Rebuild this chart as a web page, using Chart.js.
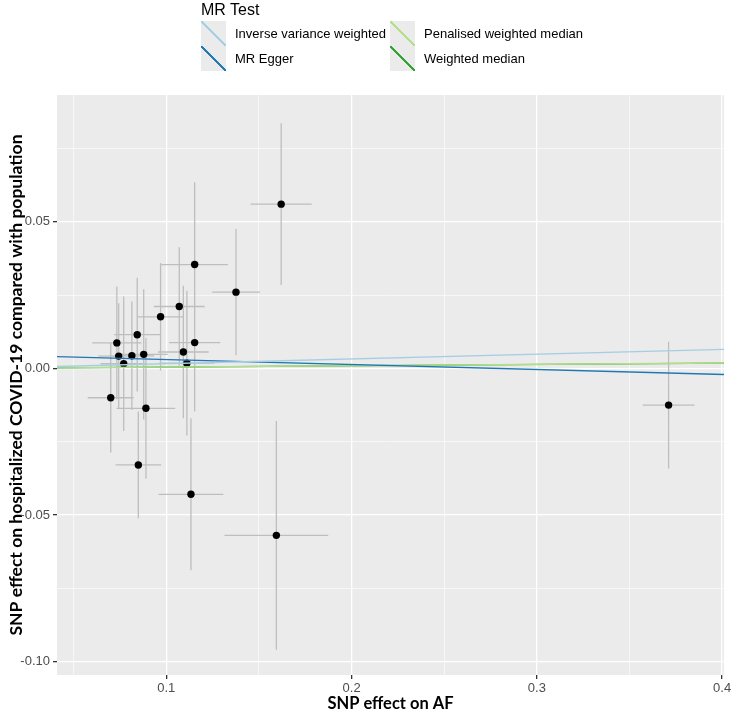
<!DOCTYPE html>
<html>
<head>
<meta charset="utf-8">
<script src="https://cdn.jsdelivr.net/npm/chart.js@4.4.1/dist/chart.umd.min.js"></script>
<style>
  body { margin: 0; background: #fff; }
  #wrap { position: relative; width: 734px; height: 716px; }
  #legend { position: absolute; left: 201px; top: 0; font-family: "Liberation Sans", Arial, sans-serif; color: #000; }
  #legend .title { font-size: 16px; height: 21px; line-height: 20px; }
  #legend .grid { display: grid; grid-template-columns: 189px 200px; }
  #legend .item { display: flex; align-items: center; height: 25px; font-size: 13px; }
  #legend .key { width: 25px; height: 25px; margin-right: 9px; }
</style>
</head>
<body>
<div id="wrap">
  <canvas id="mr-chart" width="734" height="716"></canvas>
  <div id="legend"><div class="title">MR Test</div><div class="grid" id="legend-items"></div></div>
</div>
<script>
// SNP effects
const betaExposure = [0.162, 0.1153, 0.1376, 0.107, 0.0969, 0.0843, 0.0733, 0.1153, 0.1092, 0.0743,
                      0.0814, 0.0878, 0.077, 0.1111, 0.070, 0.089, 0.0849, 0.1133, 0.1594, 0.3711];
const betaOutcome = [0.056, 0.0354, 0.026, 0.0211, 0.0176, 0.0115, 0.0087, 0.0088, 0.0056, 0.0042,
                     0.0043, 0.0048, 0.0016, 0.0018, -0.0100, -0.0136, -0.0329, -0.0429, -0.0569, -0.0125];
// half widths of the error bars
const errExposure = [0.0165, 0.018, 0.013, 0.0137, 0.0123, 0.0124, 0.0133, 0.0138, 0.0137, 0.011,
                     0.012, 0.013, 0.0125, 0.015, 0.0124, 0.0158, 0.0123, 0.0175, 0.028, 0.014];
const errOutcome = [0.0276, 0.0281, 0.0215, 0.0202, 0.0183, 0.0194, 0.0192, 0.0235, 0.0226, 0.018,
                    0.0185, 0.0222, 0.0229, 0.0247, 0.0187, 0.024, 0.0182, 0.0259, 0.039, 0.0216];

// MR methods (slope / intercept)
const methods = ['Inverse variance weighted', 'MR Egger', 'Penalised weighted median', 'Weighted median'];
const slopes = [0.0162, -0.0169, 0.0046, 0.0045];
const intercepts = [0, 0.0047, 0, 0];
const methodColors = ['#A6CEE3', '#1F78B4', '#B2DF8A', '#33A02C'];

const xTickVals = [0.05, 0.1, 0.15, 0.2, 0.25, 0.3, 0.35, 0.4];
const xTickLabels = ['', '0.1', '', '0.2', '', '0.3', '', '0.4'];
const yTickVals = [-0.1, -0.075, -0.05, -0.025, 0, 0.025, 0.05, 0.075];
const yTickLabels = ['-0.10', '', '-0.05', '', '0.00', '', '0.05', ''];

const xMin = 0.041, xMax = 0.401, yMin = -0.1045, yMax = 0.0932;

let datasets = [];

// regression lines on top
methods.forEach((m, i) => {
    datasets.push({
        label: m,
        data: [{x: xMin, y: intercepts[i] + slopes[i] * xMin}, {x: xMax, y: intercepts[i] + slopes[i] * xMax}],
        showLine: true,
        borderColor: methodColors[i],
        borderWidth: 1.4,
        pointRadius: 0
    });
});

datasets.push({
    label: 'SNPs',
    data: betaExposure.map((v, i) => ({x: v, y: betaOutcome[i]})),
    pointRadius: 3.7,
    pointBackgroundColor: '#000',
    pointBorderWidth: 0
});

// error bars as broken lines
let hBars = [], vBars = [];
betaExposure.forEach((v, i) => {
    let b = betaOutcome[i];
    hBars.push({x: v - errExposure[i], y: b}, {x: v + errExposure[i], y: b}, {x: v, y: null});
    vBars.push({x: v, y: b - errOutcome[i]}, {x: v, y: b + errOutcome[i]}, {x: v, y: null});
});
datasets.push({ label: 'h', data: hBars, showLine: true, spanGaps: false, borderColor: '#BEBEBE', borderWidth: 1.3, pointRadius: 0 });
datasets.push({ label: 'v', data: vBars, showLine: true, spanGaps: false, borderColor: '#BEBEBE', borderWidth: 1.3, pointRadius: 0 });

const panelBg = {
    id: 'panelBg',
    beforeDraw(chart) {
        const a = chart.chartArea;
        chart.ctx.save();
        chart.ctx.fillStyle = '#EBEBEB';
        chart.ctx.fillRect(a.left, a.top, a.right - a.left, a.bottom - a.top);
        chart.ctx.restore();
    }
};

const tickFont = {family: '"Liberation Sans", Arial, sans-serif', size: 13};

new Chart(document.getElementById('mr-chart'), {
    type: 'scatter',
    data: { datasets: datasets },
    plugins: [panelBg],
    options: {
        responsive: false,
        animation: false,
        layout: { padding: { top: 95, right: 10, left: 0, bottom: 0 } },
        plugins: { legend: { display: false }, tooltip: { enabled: false } },
        scales: {
            x: {
                type: 'linear', min: xMin, max: xMax,
                afterBuildTicks: s => { s.ticks = xTickVals.map(v => ({value: v})); },
                afterFit: s => { s.height = 41; },
                border: { display: false },
                grid: {
                    color: '#FFFFFF',
                    lineWidth: c => xTickLabels[c.index] ? 1.3 : 0.6,
                    tickColor: c => xTickLabels[c.index] ? '#333333' : 'rgba(0,0,0,0)',
                    tickLength: 4
                },
                ticks: { callback: (v, i) => xTickLabels[i], color: '#4D4D4D', font: tickFont, padding: 2, autoSkip: false, maxRotation: 0 },
                title: { display: true, text: 'SNP effect on AF', color: '#000', font: {family: 'Lato, sans-serif', size: 16.5, weight: 'bold'}, padding: { top: 0, bottom: 2 } }
            },
            y: {
                type: 'linear', min: yMin, max: yMax,
                afterBuildTicks: s => { s.ticks = yTickVals.map(v => ({value: v})); },
                afterFit: s => { s.width = 57; },
                border: { display: false },
                grid: {
                    color: '#FFFFFF',
                    lineWidth: c => yTickLabels[c.index] ? 1.3 : 0.6,
                    tickColor: c => yTickLabels[c.index] ? '#333333' : 'rgba(0,0,0,0)',
                    tickLength: 4
                },
                ticks: { callback: (v, i) => yTickLabels[i], color: '#4D4D4D', font: tickFont, padding: 3, autoSkip: false },
                title: { display: true, text: 'SNP effect on hospitalized COVID-19 compared with population', color: '#000', font: {family: 'Lato, sans-serif', size: 17.5, weight: 'bold'}, padding: { top: 6, bottom: 0 } }
            }
        }
    }
});

// legend
const order = [0, 2, 1, 3];
let items = document.getElementById('legend-items');
order.forEach(i => {
    let c = methodColors[i];
    let el = document.createElement('div');
    el.className = 'item';
    el.innerHTML = `<div class="key" style="background: linear-gradient(to top right, #EBEBEB calc(50% - 0.9px), ${c} calc(50% - 0.7px), ${c} calc(50% + 0.7px), #EBEBEB calc(50% + 0.9px));"></div><span>${methods[i]}</span>`;
    items.appendChild(el);
});
</script>
</body>
</html>
